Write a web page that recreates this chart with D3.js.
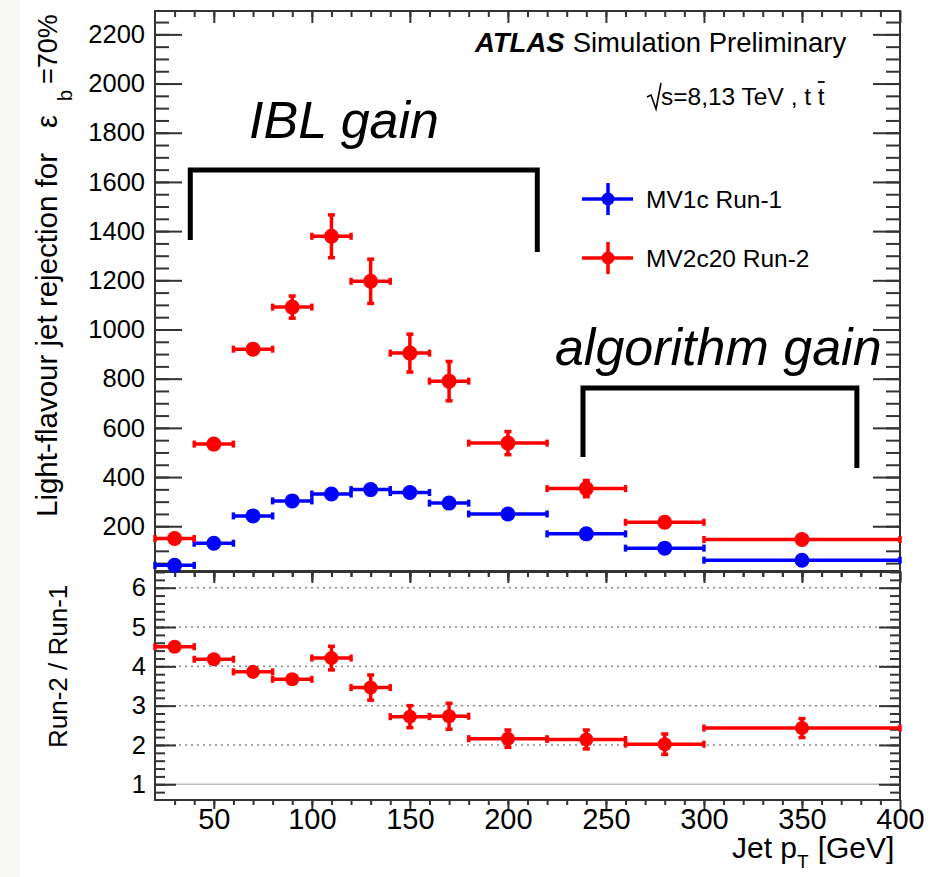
<!DOCTYPE html>
<html><head><meta charset="utf-8">
<script src="https://cdn.jsdelivr.net/npm/d3@7"></script>
<style>body{margin:0;background:#fff}text{font-family:"Liberation Sans",Arial,sans-serif}</style>
</head><body>
<svg id="c" width="936" height="877"></svg>
<script>
// ---------- data ----------
const binLow    = [20, 40, 60, 80, 100, 120, 140, 160, 180, 220, 260, 300];
const binHigh   = [40, 60, 80, 100, 120, 140, 160, 180, 220, 260, 300, 400];
const binCenter = [30, 50, 70, 90, 110, 130, 150, 170, 200, 240, 280, 350];
const mv1c      = [41, 131, 242, 303, 331, 349, 337, 294, 250, 169, 111, 62];
const mv1cErr   = [6, 6, 7, 8, 9, 10, 10, 10, 10, 9, 8, 6];
const mv2c20    = [150, 534, 920, 1091, 1379, 1196, 904, 790, 538, 353, 216, 146];
const mv2c20Err = [12, 14, 18, 45, 87, 90, 77, 80, 47, 33, 20, 15];
const ratio     = [4.50, 4.18, 3.86, 3.67, 4.21, 3.46, 2.72, 2.73, 2.16, 2.14, 2.02, 2.43];
const ratioErr  = [0.05, 0.06, 0.07, 0.10, 0.30, 0.32, 0.28, 0.33, 0.22, 0.24, 0.26, 0.24];
const topYTicks   = [200, 400, 600, 800, 1000, 1200, 1400, 1600, 1800, 2000, 2200];
const ratioYTicks = [1, 2, 3, 4, 5, 6];
const xTicks      = [50, 100, 150, 200, 250, 300, 350, 400];
const seriesNames = ["MV1c Run-1", "MV2c20 Run-2"];
const seriesColors = ["#0000ff", "#ff0000"];
// annotation brackets in data coordinates
const ibl  = {label: "IBL gain", tx: 68, ty: 1778, x1: 38, y1: 1364, x2: 215, y2: 1315, top: 1648};
const algo = {label: "algorithm gain", tx: 224, ty: 856, x1: 238.3, y1: 482, x2: 378, y2: 437, top: 762};

// ---------- layout ----------
const svg = d3.select("#c");
svg.append("rect").attr("x",0).attr("y",0).attr("width",20).attr("height",877).attr("fill","#f7f9f2");

const L = 155, R = 900;
const topT = 11, topB = 571, botT = 572, botB = 800;
const x = d3.scaleLinear().domain([20, 400]).range([L, R]);
const yT = d3.scaleLinear().domain([18, 2295]).range([topB, topT]);
const yB = d3.scaleLinear().domain([0.6, 6.4]).range([botB, botT]);
const fmt = d => String(d);

const axisColor = "#333";
function styleAxis(g){
  g.select(".domain").remove();
  g.selectAll("line").attr("stroke", axisColor).attr("stroke-width", 2);
}
function minorRange(a,b,step){ const out=[]; for(let v=a; v<=b+1e-9; v+=step) out.push(+v.toFixed(6)); return out; }

// ---------- top panel axes ----------
svg.append("g").attr("transform",`translate(${L},0)`)
  .call(d3.axisLeft(yT).tickValues(minorRange(50,2250,50)).tickSize(-14).tickFormat("")).call(styleAxis);
svg.append("g").attr("transform",`translate(${L},0)`)
  .call(d3.axisLeft(yT).tickValues(topYTicks).tickSize(-27).tickPadding(10).tickFormat(fmt)).call(styleAxis)
  .selectAll("text").attr("font-size",25.5).attr("fill","#000").attr("font-family","Liberation Sans, Arial, sans-serif");
svg.append("g").attr("transform",`translate(${R},0)`)
  .call(d3.axisRight(yT).tickValues(minorRange(50,2250,50)).tickSize(-14).tickFormat("")).call(styleAxis);
svg.append("g").attr("transform",`translate(${R},0)`)
  .call(d3.axisRight(yT).tickValues(topYTicks).tickSize(-27).tickFormat("")).call(styleAxis);
[topT, topB].forEach((yy,i)=>{
  const mk = i===0 ? d3.axisTop : d3.axisBottom;
  const s = i===0 ? 1 : -1;
  svg.append("g").attr("transform",`translate(0,${yy})`)
    .call(mk(x).tickValues(minorRange(30,390,10)).tickSize(s*-6).tickFormat("")).call(styleAxis);
  svg.append("g").attr("transform",`translate(0,${yy})`)
    .call(mk(x).tickValues(xTicks).tickSize(s*-12).tickFormat("")).call(styleAxis);
});
svg.append("rect").attr("x",L).attr("y",topT).attr("width",R-L).attr("height",topB-topT)
  .attr("fill","none").attr("stroke",axisColor).attr("stroke-width",2);

// ---------- bottom panel ----------
svg.append("g").selectAll("line").data(ratioYTicks).join("line")
  .attr("x1",L).attr("x2",R).attr("y1",d=>yB(d)).attr("y2",d=>yB(d))
  .attr("stroke",d=>d===1?"#bbb":"#888").attr("stroke-width",1.5)
  .attr("stroke-dasharray",d=>d===1?null:"2,4");
svg.append("g").attr("transform",`translate(${L},0)`)
  .call(d3.axisLeft(yB).tickValues(minorRange(0.8,6.4,0.2)).tickSize(-10).tickFormat("")).call(styleAxis);
svg.append("g").attr("transform",`translate(${L},0)`)
  .call(d3.axisLeft(yB).tickValues(ratioYTicks).tickSize(-21).tickPadding(9).tickFormat(fmt)).call(styleAxis)
  .selectAll("text").attr("font-size",25.5).attr("fill","#000").attr("font-family","Liberation Sans, Arial, sans-serif");
svg.append("g").attr("transform",`translate(${R},0)`)
  .call(d3.axisRight(yB).tickValues(minorRange(0.8,6.4,0.2)).tickSize(-10).tickFormat("")).call(styleAxis);
svg.append("g").attr("transform",`translate(${R},0)`)
  .call(d3.axisRight(yB).tickValues(ratioYTicks).tickSize(-21).tickFormat("")).call(styleAxis);
[botT, botB].forEach((yy,i)=>{
  const mk = i===0 ? d3.axisTop : d3.axisBottom;
  const s = i===0 ? 1 : -1;
  svg.append("g").attr("transform",`translate(0,${yy})`)
    .call(mk(x).tickValues(minorRange(30,390,10)).tickSize(s*-5).tickFormat("")).call(styleAxis);
  svg.append("g").attr("transform",`translate(0,${yy})`)
    .call(mk(x).tickValues(xTicks).tickSize(s*-9).tickFormat("")).call(styleAxis);
});
svg.append("g").attr("transform",`translate(0,${botB})`)
  .call(d3.axisBottom(x).tickValues(xTicks).tickSize(0).tickPadding(8).tickFormat(fmt)).call(g=>g.select(".domain").remove())
  .selectAll("text").attr("font-size",29).attr("fill","#000").attr("dy","0.71em")
  .attr("font-family","Liberation Sans, Arial, sans-serif");
svg.append("rect").attr("x",L).attr("y",botT).attr("width",R-L).attr("height",botB-botT)
  .attr("fill","none").attr("stroke",axisColor).attr("stroke-width",2);

// ---------- data marks ----------
function drawSeries(g, yScale, vals, errs, color, r, cap, lw){
  const idx = d3.range(vals.length);
  const s = g.append("g").attr("stroke",color).attr("fill",color);
  s.selectAll(".h").data(idx).join("line")
    .attr("x1",i=>x(binLow[i])).attr("x2",i=>x(binHigh[i]))
    .attr("y1",i=>yScale(vals[i])).attr("y2",i=>yScale(vals[i])).attr("stroke-width",lw);
  s.selectAll(".hc").data(idx.flatMap(i=>[[i,binLow[i]],[i,binHigh[i]]])).join("line")
    .attr("x1",d=>x(d[1])).attr("x2",d=>x(d[1]))
    .attr("y1",d=>yScale(vals[d[0]])-cap).attr("y2",d=>yScale(vals[d[0]])+cap).attr("stroke-width",lw);
  s.selectAll(".v").data(idx).join("line")
    .attr("x1",i=>x(binCenter[i])).attr("x2",i=>x(binCenter[i]))
    .attr("y1",i=>yScale(vals[i]-errs[i])).attr("y2",i=>yScale(vals[i]+errs[i])).attr("stroke-width",lw);
  s.selectAll(".vc").data(idx.flatMap(i=>[[i,vals[i]-errs[i]],[i,vals[i]+errs[i]]])).join("line")
    .attr("x1",d=>x(binCenter[d[0]])-cap).attr("x2",d=>x(binCenter[d[0]])+cap)
    .attr("y1",d=>yScale(d[1])).attr("y2",d=>yScale(d[1])).attr("stroke-width",lw);
  s.selectAll("circle").data(idx).join("circle")
    .attr("cx",i=>x(binCenter[i])).attr("cy",i=>yScale(vals[i])).attr("r",r).attr("stroke","none");
}
const gTop = svg.append("g");
drawSeries(gTop, yT, mv1c, mv1cErr, seriesColors[0], 7.5, 3.5, 3.5);
drawSeries(gTop, yT, mv2c20, mv2c20Err, seriesColors[1], 7.5, 3.5, 3.5);
const gBot = svg.append("g");
drawSeries(gBot, yB, ratio, ratioErr, seriesColors[1], 7, 3.5, 3.5);

// ---------- legend ----------
seriesNames.forEach((name,i)=>{
  const cy = 199 + i*59, cx = 608;
  const g = svg.append("g").attr("stroke",seriesColors[i]).attr("fill",seriesColors[i]);
  g.append("line").attr("x1",cx-26).attr("x2",cx+25).attr("y1",cy).attr("y2",cy).attr("stroke-width",3.5);
  g.append("line").attr("x1",cx).attr("x2",cx).attr("y1",cy-16).attr("y2",cy+16).attr("stroke-width",3.5);
  g.append("circle").attr("cx",cx).attr("cy",cy).attr("r",6.5).attr("stroke","none");
  svg.append("text").attr("x",646).attr("y",cy+9).attr("font-size",24.5).text(name);
});

// ---------- labels ----------
const atl = svg.append("text").attr("x",475).attr("y",52).attr("font-size",27.5);
atl.append("tspan").attr("font-weight","bold").attr("font-style","italic").text("ATLAS");
atl.append("tspan").attr("dx",8).text("Simulation Preliminary");
svg.append("path").attr("d","M647,97 L651,95 L656,109 L661,83").attr("fill","none").attr("stroke","#000").attr("stroke-width",1.6);
const ecm = svg.append("text").attr("x",661).attr("y",105).attr("font-size",24.5);
ecm.append("tspan").text("s=8,13 TeV , t ");
ecm.append("tspan").text("t");
{
  const n = ecm.node(), k = n.getNumberOfChars()-1;
  const p = n.getStartPositionOfChar(k), w = n.getExtentOfChar(k).width;
  svg.append("line").attr("x1",p.x).attr("x2",p.x+w).attr("y1",82).attr("y2",82).attr("stroke","#000").attr("stroke-width",1.8);
}

// y axis title (top)
const yt = svg.append("g").attr("transform","translate(57,0) rotate(-90)");
yt.append("text").attr("x",-517).attr("y",0).attr("font-size",29.5).text("Light-flavour jet rejection for");
yt.append("text").attr("x",-128).attr("y",0).attr("font-size",29).text("ε");
yt.append("text").attr("x",-101).attr("y",15).attr("font-size",20).text("b");
yt.append("text").attr("x",-84).attr("y",0).attr("font-size",27).text("=70%");
// y axis title (bottom)
svg.append("text").attr("transform","translate(67,748) rotate(-90)").attr("font-size",26).text("Run-2 / Run-1");
// x axis title
const xt = svg.append("text").attr("x",732).attr("y",858).attr("font-size",30);
xt.append("tspan").text("Jet p");
xt.append("tspan").attr("dy",10).attr("font-size",19).text("T");
xt.append("tspan").attr("dy",-10).attr("dx",9).text("[GeV]");

// ---------- annotations ----------
[ibl, algo].forEach(a=>{
  svg.append("path")
    .attr("d",`M${x(a.x1)},${yT(a.y1)} L${x(a.x1)},${yT(a.top)} L${x(a.x2)},${yT(a.top)} L${x(a.x2)},${yT(a.y2)}`)
    .attr("fill","none").attr("stroke","#000").attr("stroke-width",5);
  svg.append("text").attr("x",x(a.tx)).attr("y",yT(a.ty)).attr("font-size",52).attr("font-style","italic").text(a.label);
});
</script>
</body></html>
